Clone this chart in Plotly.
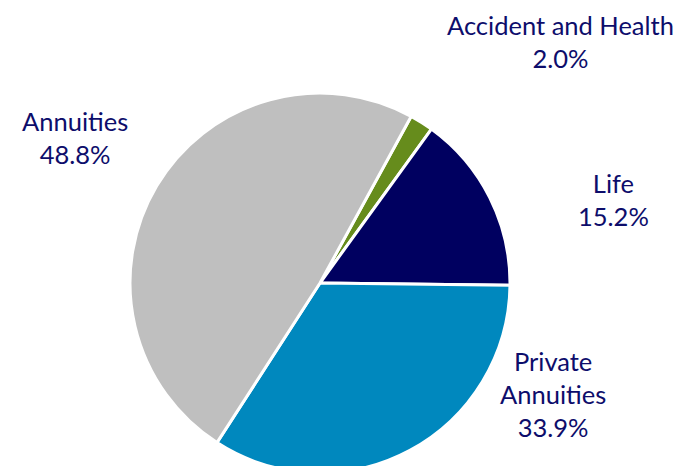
import plotly.graph_objects as go

categories = ["Accident and Health", "Life", "Private Annuities", "Annuities"]
values = [2.0, 15.2, 33.9, 48.8]
label_text = ["Accident and Health", "Life", "Private<br>Annuities", "Annuities"]
colors = ["#668C1C", "#000060", "#0088BE", "#BFBFBF"]

W, H = 676, 480
cx, cy, r = 320, 283, 190

fig = go.Figure(go.Pie(
    labels=categories, values=values, sort=False, direction="clockwise",
    rotation=28.7, textinfo="none", hoverinfo="label+percent",
    marker=dict(colors=colors, line=dict(color="white", width=3)),
    domain=dict(x=[(cx - r) / W, (cx + r) / W], y=[(H - cy - r) / H, (H - cy + r) / H]),
    showlegend=False,
))

label_pos = [(560, 41), (613, 199), (553, 394), (75, 137)]
for txt, v, (px, py) in zip(label_text, values, label_pos):
    fig.add_annotation(
        x=px / W, y=1 - py / H, xref="paper", yref="paper",
        text=f"{txt}<br>{v:.1f}%", showarrow=False,
        font=dict(family="Lato", size=25.5, color="#0D0D6B"),
        align="center", xanchor="center", yanchor="middle",
    )

fig.update_layout(width=W, height=H, margin=dict(l=0, r=0, t=0, b=0),
                  paper_bgcolor="white", plot_bgcolor="white")
fig.write_html("out.html")
